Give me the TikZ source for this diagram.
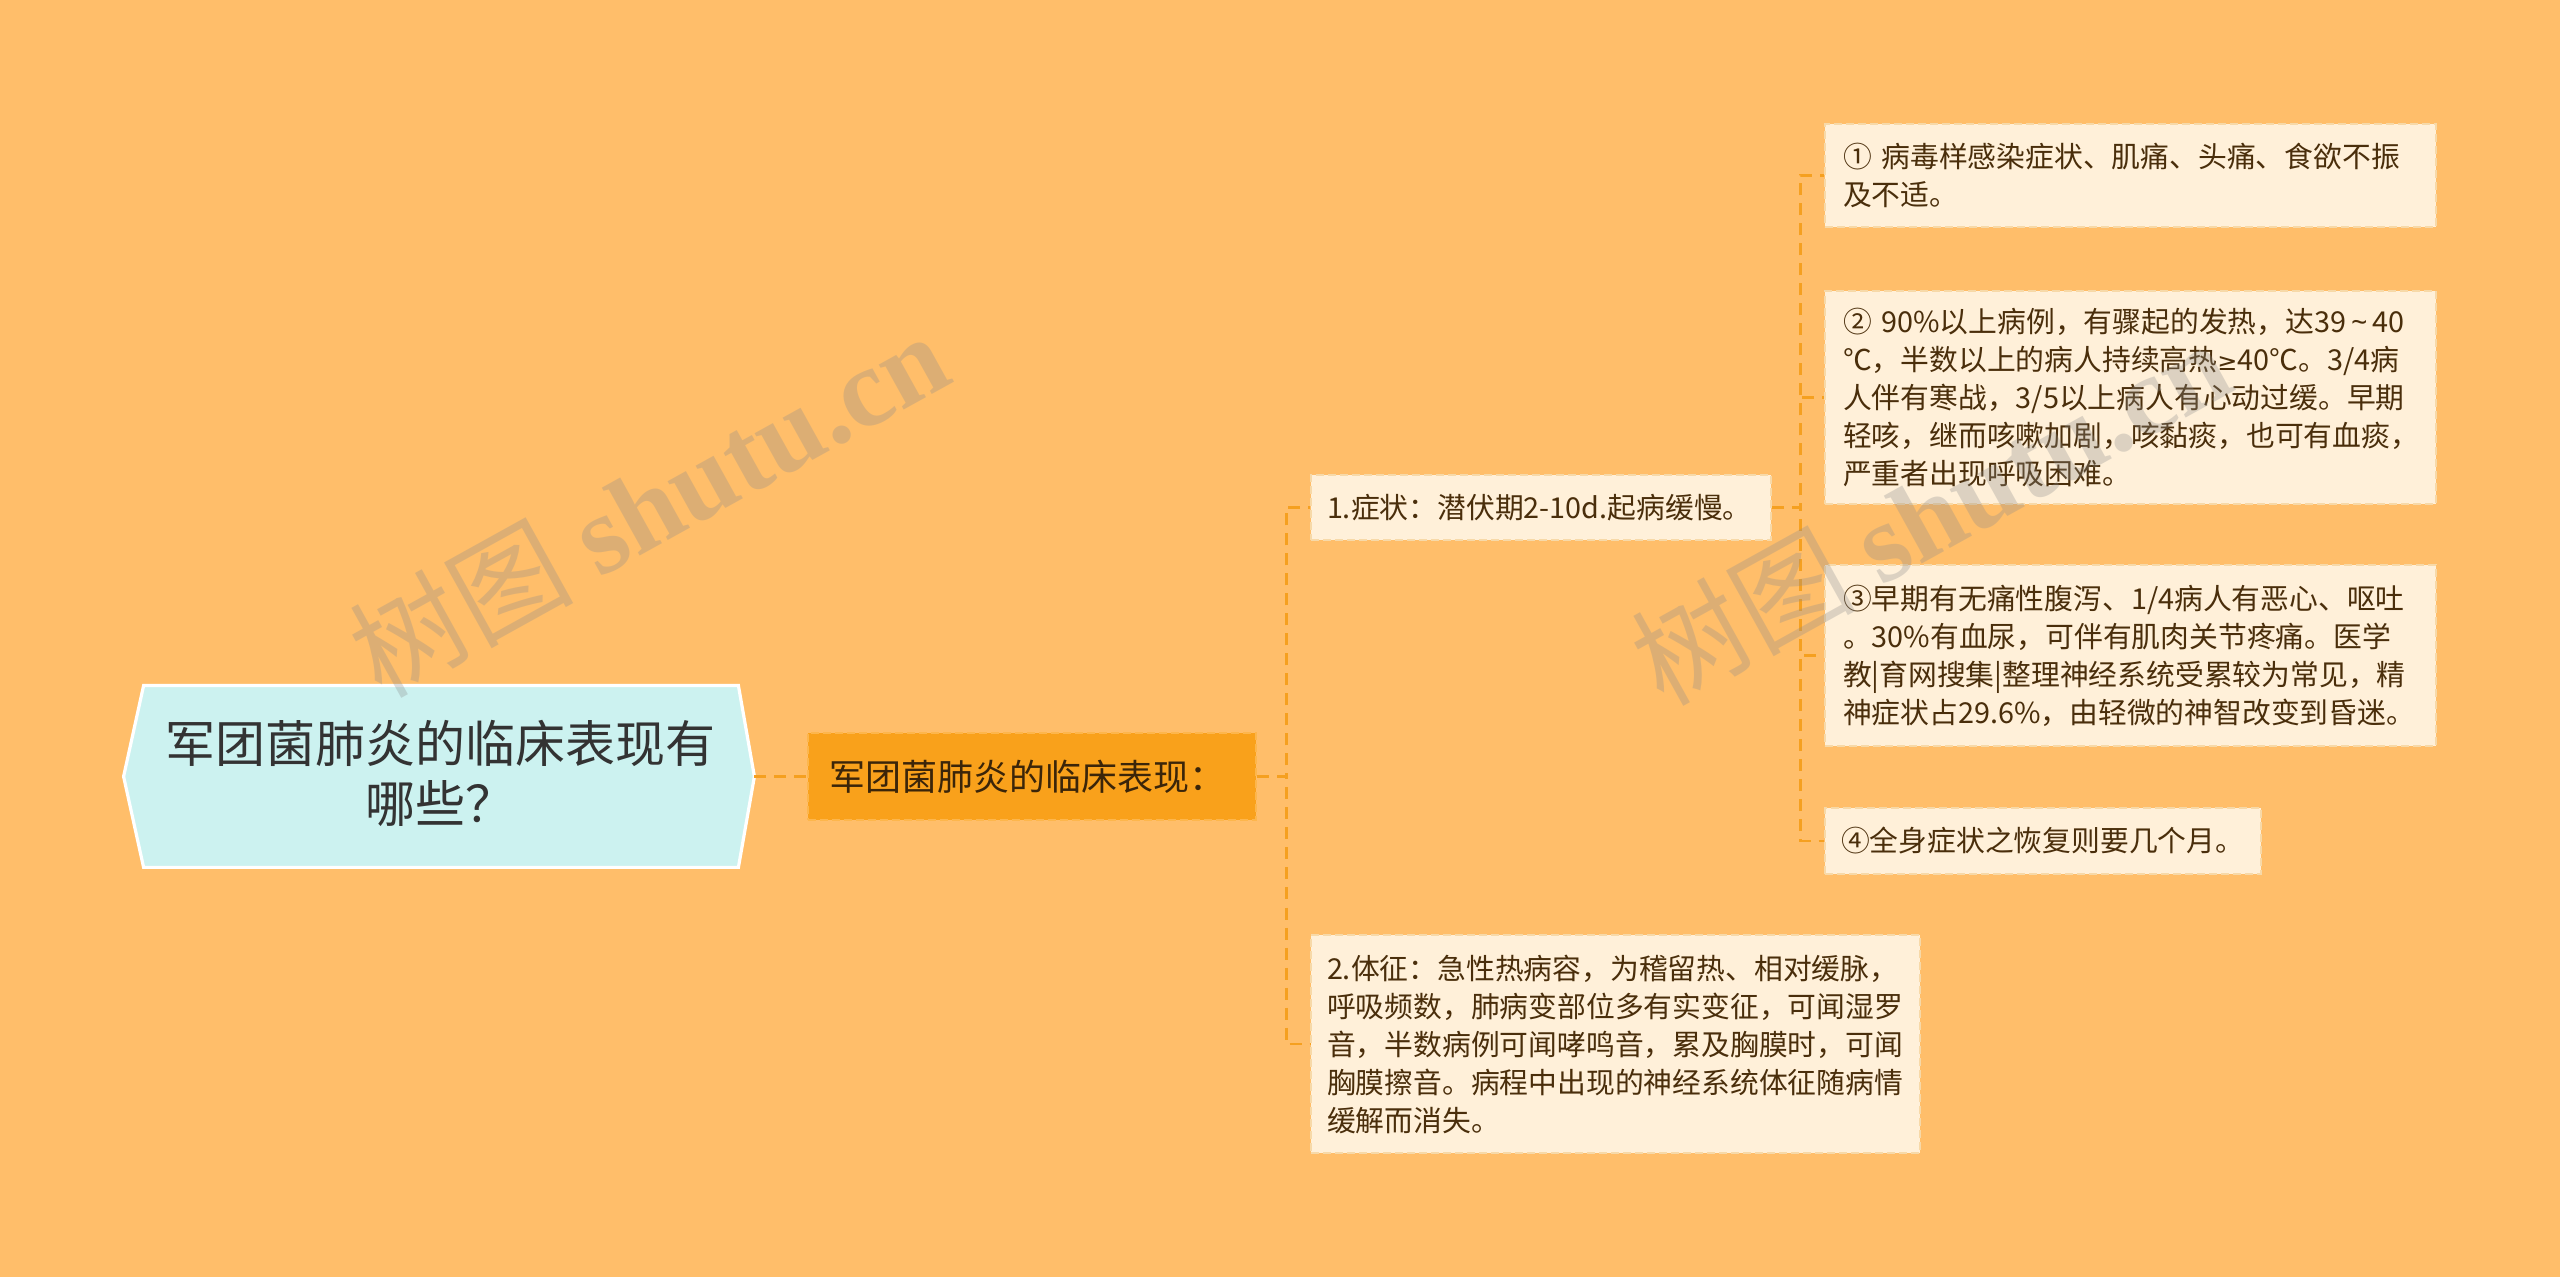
\documentclass[tikz,border=0pt]{standalone}
\usepackage{fontspec}
\setmainfont{Noto Sans CJK SC}
\newfontfamily\cjk{Noto Sans CJK SC}
\newfontfamily\latf{Noto Sans}
\newfontfamily\symf{DejaVu Sans}
\newfontfamily\wmserif{Liberation Serif}
\usetikzlibrary{calc}
\definecolor{bg}{HTML}{FFBE6A}
\definecolor{connc}{HTML}{F5A020}
\definecolor{rootfill}{HTML}{CCF2F0}
\definecolor{roottext}{HTML}{333333}
\definecolor{mainfill}{HTML}{F9A11B}
\definecolor{mainedge}{HTML}{FDB64C}
\definecolor{leaffill}{HTML}{FFF0D9}
\definecolor{leafedge}{HTML}{F7D9A8}
\definecolor{leaftext}{HTML}{4A2E0B}
\tikzset{
  conn/.style={draw=connc, line width=1.4pt, dash pattern=on 6pt off 4pt},
  leafbox/.style={draw=leafedge, fill=leaffill, line width=1.2pt, dash pattern=on 4pt off 2pt,
    text=leaftext, align=left, inner xsep=9pt, inner ysep=0pt,
    font=\fontsize{14.4pt}{19pt}\selectfont, anchor=center},
  mainbox/.style={draw=mainedge, fill=mainfill, line width=1.2pt, dash pattern=on 4pt off 2pt,
    text=leaftext!80!black, align=left, inner xsep=10.5pt, inner ysep=0pt,
    font=\fontsize{18pt}{22pt}\selectfont},
  rootframe/.style={inner sep=0pt, minimum width=315pt, minimum height=90.5pt},
  roottxt/.style={text=roottext, align=center, font=\fontsize{25pt}{30pt}\selectfont},
  rootshape/.style={fill=rootfill, draw=white, line width=1.6pt, line join=miter},
  wm/.style={text=black!45, opacity=0.3, font=\fontsize{56pt}{60pt}\selectfont, inner sep=0pt}
}
\newcommand{\geqsym}{{\symf\fontsize{12pt}{19pt}\selectfont ≥}}
\newcommand{\tildesym}{\makebox[0.9em]{\latf\textasciitilde}}
\begin{document}
\begin{tikzpicture}[x=0.5pt,y=-0.5pt]
\fill[bg] (0,0) rectangle (2560,1277);
\useasboundingbox (0,0) rectangle (2560,1277);

% root
\node[rootframe] (root) at (439,776.5) {};
\draw[rootshape] (root.west) -- ($(root.north west)+(20,0)$) -- ($(root.north east)+(-16,0)$)
  -- (root.east) -- ($(root.south east)+(-16,0)$) -- ($(root.south west)+(20,0)$) -- cycle;
\node[roottxt] (roottext) at (440,773) {军团菌肺炎的临床表现有\\哪些？};

% main
\node[mainbox, text width=203pt, minimum height=43.5pt] (main) at (1032,776.5) {军团菌肺炎的临床表现：};

% level 2
\node[leafbox, inner xsep=8pt, text width=214pt, minimum height=32.5pt] (b1) at (1541,507.5)
  {1.症状：潜伏期2-10d.起病缓慢。};
\node[leafbox, inner xsep=8pt, text width=288.5pt, minimum height=109pt] (b2) at (1615.5,1044)
  {2.体征：急性热病容，为稽留热、相对缓脉，\\呼吸频数，肺病变部位多有实变征，可闻湿罗\\音，半数病例可闻哮鸣音，累及胸膜时，可闻\\胸膜擦音。病程中出现的神经系统体征随病情\\缓解而消失。};

% leaves
\node[leafbox, text width=287.5pt, minimum height=51.5pt] (l1) at (2130.5,175.5)
  {① 病毒样感染症状、肌痛、头痛、食欲不振\\及不适。};
\node[leafbox, text width=287.5pt, minimum height=106.5pt] (l2) at (2130.5,397.5)
  {② 90\%以上病例，有骤起的发热，达39\tildesym40\\℃，半数以上的病人持续高热\geqsym40℃。3/4病\\人伴有寒战，3/5以上病人有心动过缓。早期\\轻咳，继而咳嗽加剧，咳黏痰，也可有血痰，\\严重者出现呼吸困难。};
\node[leafbox, text width=287.5pt, minimum height=90.5pt] (l3) at (2130.5,655.5)
  {③早期有无痛性腹泻、1/4病人有恶心、呕吐\\。30\%有血尿，可伴有肌肉关节疼痛。医学\\教|育网搜集|整理神经系统受累较为常见，精\\神症状占29.6\%，由轻微的神智改变到昏迷。};
\node[leafbox, inner xsep=8pt, text width=202pt, minimum height=33pt] (l4) at (2043,841)
  {④全身症状之恢复则要几个月。};

% connectors
\draw[conn] (root.east) -- (main.west);
\draw[conn] (main.east) -- ++(29,0) |- (b1.west);
\draw[conn] (main.east) -- ++(29,0) |- (b2.west);
\draw[conn] (b1.east) -- ++(28,0) |- (l1.west);
\draw[conn] (b1.east) -- ++(28,0) |- (l2.west);
\draw[conn] (b1.east) -- ++(28,0) |- (l3.west);
\draw[conn] (b1.east) -- ++(28,0) |- (l4.west);

% watermarks
\node[wm, rotate=29] (wm1) at (648,503) {\cjk 树图 {\wmserif\bfseries shutu.cn}};
\node[wm, rotate=29] (wm2) at (1930,511) {\cjk 树图 {\wmserif\bfseries shutu.cn}};
\end{tikzpicture}
\end{document}
